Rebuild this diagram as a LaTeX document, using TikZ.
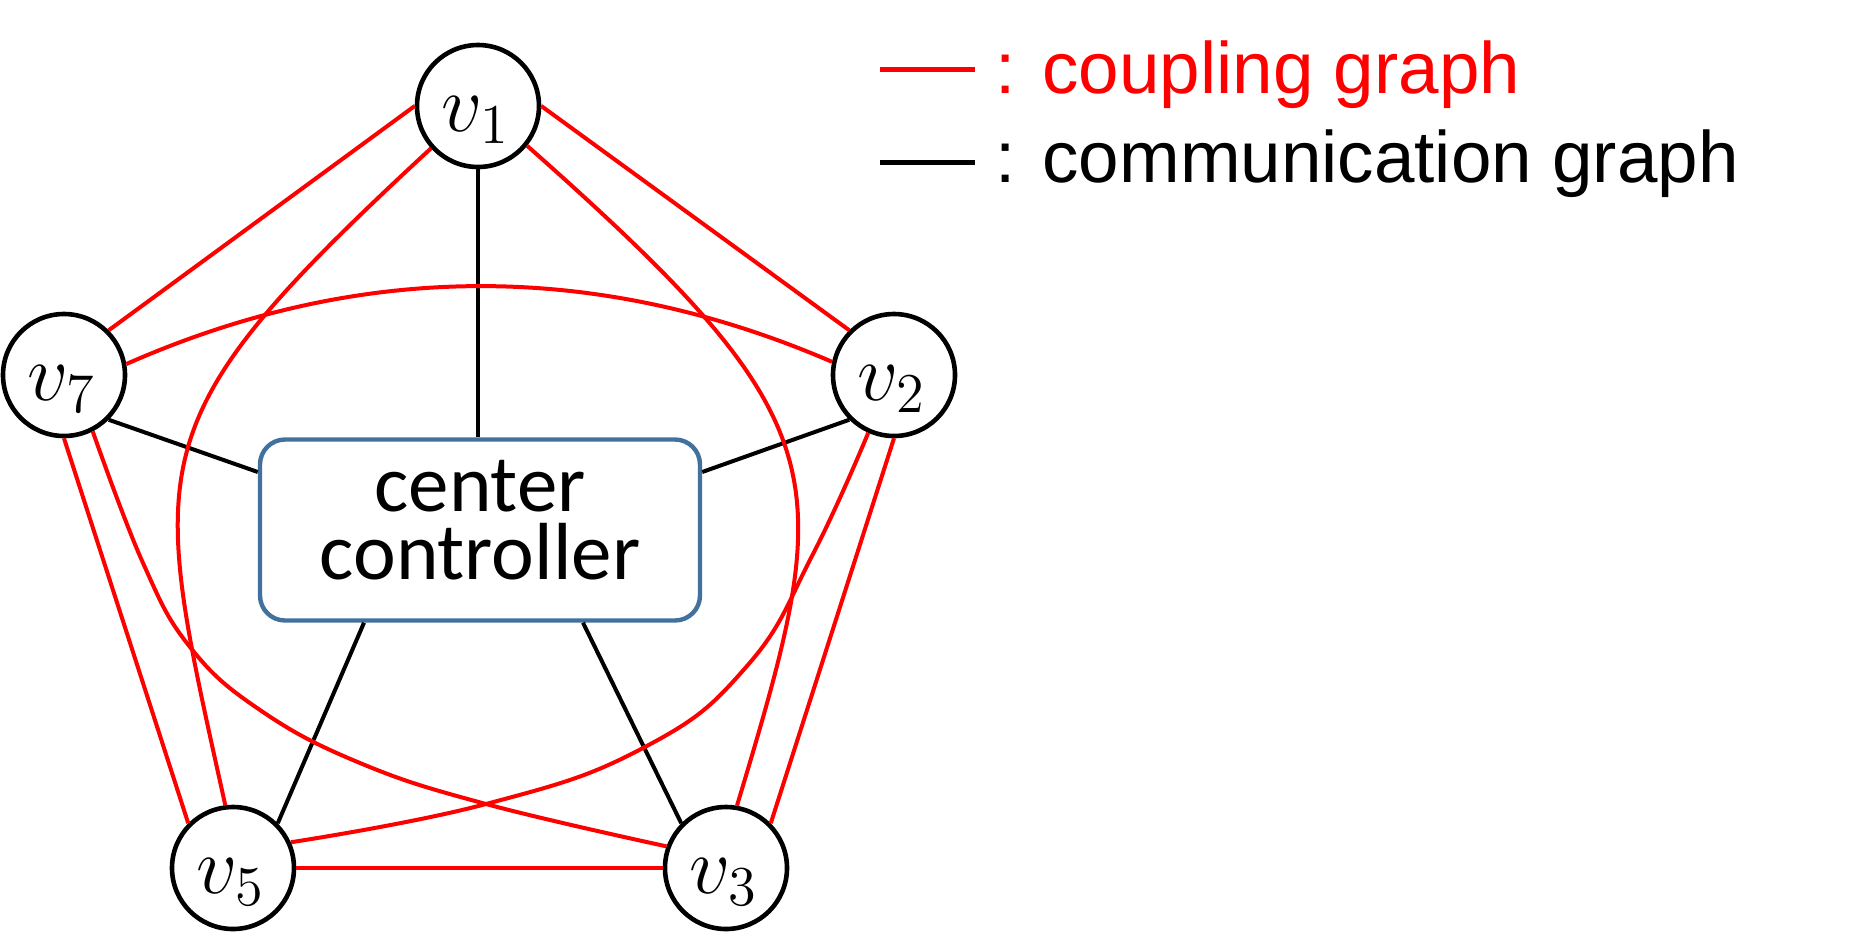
\documentclass[tikz,border=0pt]{standalone}
\usepackage{fontspec}
\newfontfamily\arialf{Liberation Sans}
\newfontfamily\calibrif{Carlito}
\DeclareMathSizes{20.74}{20.74}{14.4}{12}
\definecolor{cred}{RGB}{255,0,0}
\definecolor{boxblue}{RGB}{65,113,156}
\begin{document}
\begin{tikzpicture}[x=0.5pt,y=-0.5pt,
  vnode/.style={circle, draw=black, line width=2.3pt, minimum size=61pt, inner sep=0pt, fill=white},
  vlab/.style={anchor=base west, inner sep=0pt, scale=1.953, font=\fontsize{20.74}{25}\selectfont},
  ctrlbox/.style={draw=boxblue, line width=2.2pt, rounded corners=12.5pt, minimum width=220pt, minimum height=90.5pt, inner sep=0pt, fill=white},
  coup/.style={draw=cred, line width=2pt},
  comm/.style={draw=black, line width=2pt},
  legline/.style={line width=2.5pt},
  legtext/.style={anchor=base west, inner sep=0pt, font=\arialf\fontsize{36.4}{44}\selectfont}
]
\useasboundingbox (0,0) rectangle (1874,933);
% nodes
\node[vnode] (v1) at (478,106) {};
\node[vnode] (v7) at (64,375) {};
\node[vnode] (v2) at (894,375) {};
\node[vnode] (v5) at (233,868) {};
\node[vnode] (v3) at (726,868) {};
\node[ctrlbox] (ctrl) at (480,530) {};
\node[font=\calibrif\fontsize{40.5}{34}\selectfont, align=center, inner sep=0pt] (ctrltext) at (480,520) {center\\controller};
\node[vlab] (l1) at ([xshift=-18.5pt,yshift=-12.5pt]v1.center) {$v_1$};
\node[vlab] (l7) at ([xshift=-18.5pt,yshift=-12.5pt]v7.center) {$v_7$};
\node[vlab] (l2) at ([xshift=-18.5pt,yshift=-12.5pt]v2.center) {$v_2$};
\node[vlab] (l5) at ([xshift=-18.5pt,yshift=-12.5pt]v5.center) {$v_5$};
\node[vlab] (l3) at ([xshift=-18.5pt,yshift=-12.5pt]v3.center) {$v_3$};
% communication graph
\draw[comm] (v1.south) -- (v1.south |- ctrl.north);
\draw[comm] (v7.-45) -- ([yshift=29pt]ctrl.west);
\draw[comm] (v2.-135) -- ([yshift=29pt]ctrl.east);
\draw[comm] (v5.45) -- ([xshift=-58pt]ctrl.south);
\draw[comm] (v3.135) -- ([xshift=51.5pt]ctrl.south);
% coupling graph
\draw[coup] (v1.180) -- (v7.45);
\draw[coup] (v1.0) -- (v2.135);
\draw[coup] (v7.-90) -- (v5.135);
\draw[coup] (v2.-90) -- (v3.45);
\draw[coup] (v5.0) -- (v3.180);
\draw[coup] (v7.10) .. controls (360,261) and (596,260) .. (v2.168);
\draw[coup] (v1.-138) .. controls (133,424) and (148,456) .. (v5.97);
\draw[coup] (v1.-39) .. controls (846,428) and (836,476) .. (v3.80);
\draw[coup] plot[smooth, tension=0.7] coordinates {(v7.-63) (143,563) (190,647) (260,710) (360,763) (486,804) (v3.160)};
\draw[coup] plot[smooth, tension=0.75] coordinates {(v2.-114) (813,554) (747,666) (643,748) (486,804) (v5.24)};
% legend
\coordinate (lr1) at (880,69);
\coordinate (lr2) at (975,69);
\coordinate (lb1) at (880,162);
\coordinate (lb2) at (975,162);
\draw[legline, cred] (lr1) -- (lr2);
\draw[legline, black] (lb1) -- (lb2);
\node[legtext, text=cred] (lt1) at (995,93) {: coupling graph};
\node[legtext] (lt2) at (995,182) {: communication graph};
\end{tikzpicture}
\end{document}
